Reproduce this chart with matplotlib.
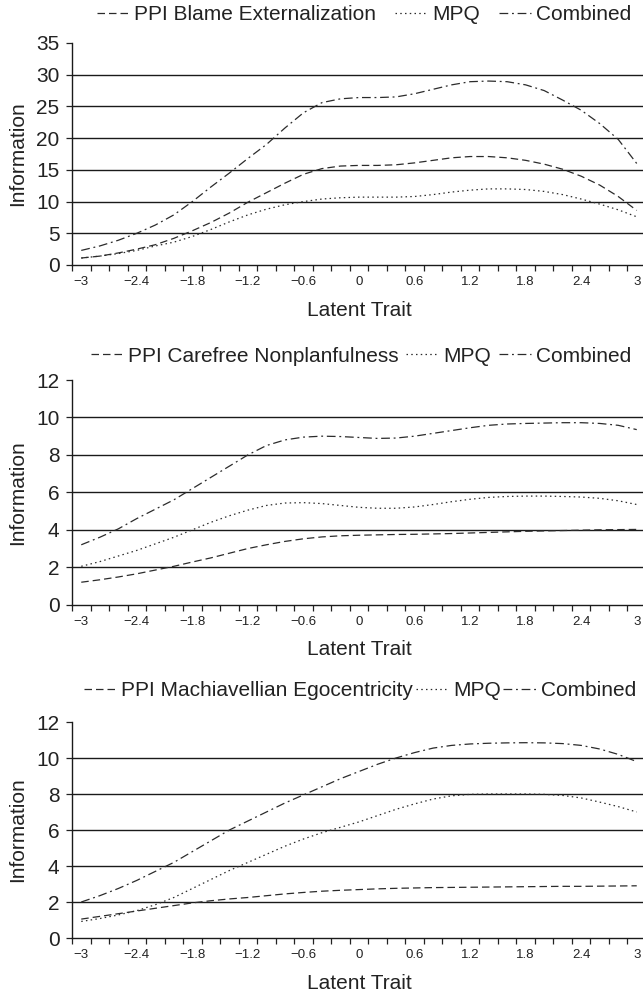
import matplotlib
matplotlib.use("Agg")
import matplotlib.pyplot as plt
import numpy as np

plt.rcParams['font.family'] = ['Liberation Sans', 'DejaVu Sans']

# ---- data -------------------------------------------------------------
theta = [-3.0, -2.8, -2.6, -2.4, -2.2, -2.0, -1.8, -1.6, -1.4, -1.2, -1.0,
         -0.8, -0.6, -0.4, -0.2, 0.0, 0.2, 0.4, 0.6, 0.8, 1.0, 1.2, 1.4,
         1.6, 1.8, 2.0, 2.2, 2.4, 2.6, 2.8, 3.0]
tick_labels = ["\u22123", "\u22122.4", "\u22121.8", "\u22121.2", "\u22120.6", "0",
               "0.6", "1.2", "1.8", "2.4", "3"]

# Panel 1: PPI Blame Externalization
ppi_blame = [1.1, 1.4, 1.9, 2.5, 3.2, 4.2, 5.4, 6.7, 8.2, 9.9, 11.4, 12.9, 14.3,
             15.2, 15.6, 15.7, 15.7, 15.8, 16.1, 16.5, 16.9, 17.1, 17.1, 16.9,
             16.5, 15.9, 15.1, 14.0, 12.6, 10.8, 8.6]
mpq_blame = [1.1, 1.4, 1.8, 2.3, 3.0, 3.6, 4.5, 5.6, 6.8, 7.9, 8.8, 9.5, 10.0,
             10.4, 10.6, 10.7, 10.7, 10.7, 10.8, 11.1, 11.5, 11.8, 12.0, 12.0,
             11.9, 11.6, 11.1, 10.4, 9.6, 8.7, 7.6]
comb_blame = [2.3, 3.0, 3.9, 5.0, 6.3, 7.9, 10.0, 12.3, 14.5, 16.8, 19.0, 21.6,
              24.0, 25.6, 26.2, 26.4, 26.4, 26.5, 27.0, 27.7, 28.4, 28.9, 29.0,
              28.9, 28.4, 27.5, 26.0, 24.4, 22.3, 19.8, 16.0]

# Panel 2: PPI Carefree Nonplanfulness
ppi_care = [1.2, 1.33, 1.48, 1.65, 1.85, 2.05, 2.28, 2.5, 2.75, 3.0, 3.2, 3.38,
            3.52, 3.62, 3.68, 3.71, 3.73, 3.75, 3.76, 3.78, 3.8, 3.83, 3.86,
            3.89, 3.92, 3.94, 3.96, 3.98, 4.0, 4.01, 4.02]
mpq_care = [2.05, 2.3, 2.6, 2.9, 3.25, 3.6, 4.0, 4.4, 4.75, 5.05, 5.3, 5.43,
            5.45, 5.4, 5.3, 5.2, 5.15, 5.15, 5.22, 5.35, 5.5, 5.63, 5.73, 5.78,
            5.8, 5.8, 5.78, 5.75, 5.68, 5.55, 5.35]
comb_care = [3.2, 3.6, 4.05, 4.6, 5.1, 5.6, 6.2, 6.8, 7.4, 8.0, 8.5, 8.8, 8.95,
             9.0, 8.98, 8.93, 8.88, 8.9, 9.0, 9.15, 9.3, 9.45, 9.58, 9.65, 9.68,
             9.7, 9.72, 9.72, 9.68, 9.58, 9.35]

# Panel 3: PPI Machiavellian Egocentricity
ppi_mach = [1.05, 1.2, 1.35, 1.5, 1.65, 1.8, 1.95, 2.07, 2.17, 2.25, 2.35, 2.45,
            2.53, 2.6, 2.65, 2.69, 2.73, 2.76, 2.78, 2.8, 2.81, 2.82, 2.83, 2.84,
            2.85, 2.86, 2.87, 2.87, 2.88, 2.89, 2.9]
mpq_mach = [0.92, 1.08, 1.28, 1.52, 1.85, 2.25, 2.75, 3.25, 3.75, 4.2, 4.65, 5.1,
            5.5, 5.85, 6.15, 6.45, 6.8, 7.15, 7.45, 7.72, 7.9, 7.98, 8.0, 8.0,
            8.0, 7.98, 7.92, 7.78, 7.55, 7.3, 7.0]
comb_mach = [2.0, 2.35, 2.75, 3.2, 3.7, 4.2, 4.8, 5.4, 6.0, 6.5, 7.0, 7.5, 7.95,
             8.4, 8.85, 9.25, 9.65, 10.0, 10.3, 10.55, 10.7, 10.78, 10.82, 10.84,
             10.85, 10.84, 10.8, 10.7, 10.5, 10.2, 9.8]

panel_names = ["PPI Blame Externalization", "PPI Carefree Nonplanfulness",
               "PPI Machiavellian Egocentricity"]
panel_series = [(ppi_blame, mpq_blame, comb_blame),
                (ppi_care, mpq_care, comb_care),
                (ppi_mach, mpq_mach, comb_mach)]
panel_ymax = [35, 12, 12]
panel_ystep = [5, 2, 2]

# ---- layout (pixels -> figure fraction) -------------------------------
W, H = 643, 992
fig = plt.figure(figsize=(W / 100, H / 100), dpi=100)
ax_left, ax_right = 72, 646
panel_px = [(43, 265), (380, 604.7), (722, 938)]
legend_px = [(364, 15), (361, 356), (360, 691)]
legend_colspace = [0.9, 0.35, 0.12]

line_col = '#2b2b2b'
styles = [dict(dashes=(6, 3.2)), dict(dashes=(1.2, 2.6)), dict(dashes=(7, 3, 1.5, 3))]

for k in range(3):
    top, bot = panel_px[k]
    ax = fig.add_axes([ax_left / W, 1 - bot / H, (ax_right - ax_left) / W, (bot - top) / H])
    x = np.arange(len(theta))
    handles = []
    labels = [panel_names[k], "MPQ", "Combined"]
    for s, st, lab in zip(panel_series[k], styles, labels):
        h, = ax.plot(x, s, color=line_col, lw=0.9, label=lab, **st)
        handles.append(h)
    ax.set_xlim(-0.5, len(theta) - 0.5)
    ax.set_ylim(0, panel_ymax[k])
    ax.set_yticks(np.arange(0, panel_ymax[k] + 0.1, panel_ystep[k]))
    ax.yaxis.grid(True, color='#1a1a1a', lw=1.0)
    ax.get_ygridlines()[-1].set_visible(False)
    ax.get_ygridlines()[0].set_visible(False)
    ax.set_axisbelow(True)
    ax.set_xticks(x[::3])
    ax.set_xticklabels(tick_labels)
    ax.set_xticks(np.arange(-0.5, len(theta), 1.0), minor=True)
    ax.tick_params(axis='x', which='major', length=0, pad=8, labelsize=9.5, labelcolor='#222')
    ax.tick_params(axis='x', which='minor', length=4, width=0.9, direction='out', color='#222')
    ax.tick_params(axis='y', length=4, width=0.9, pad=5, labelsize=15, labelcolor='#222', color='#222')
    for sp in ['top', 'right']:
        ax.spines[sp].set_visible(False)
    for sp in ['left', 'bottom']:
        ax.spines[sp].set_color('#1a1a1a')
        ax.spines[sp].set_linewidth(1.0)
    ax.set_xlabel("Latent Trait", fontsize=15, color='#222', labelpad=9)
    ax.set_ylabel("Information", fontsize=15, color='#222')
    ax.yaxis.set_label_coords(-(ax_left - 27) / (ax_right - ax_left), 0.5)
    lx, ly = legend_px[k]
    fig.legend(handles, labels, loc='center', bbox_to_anchor=(lx / W, 1 - ly / H),
               ncol=3, frameon=False, fontsize=15, handlelength=1.55,
               handletextpad=0.25, columnspacing=legend_colspace[k], labelcolor='#222',
               borderpad=0, borderaxespad=0)

fig.savefig("out.png", dpi=100)
